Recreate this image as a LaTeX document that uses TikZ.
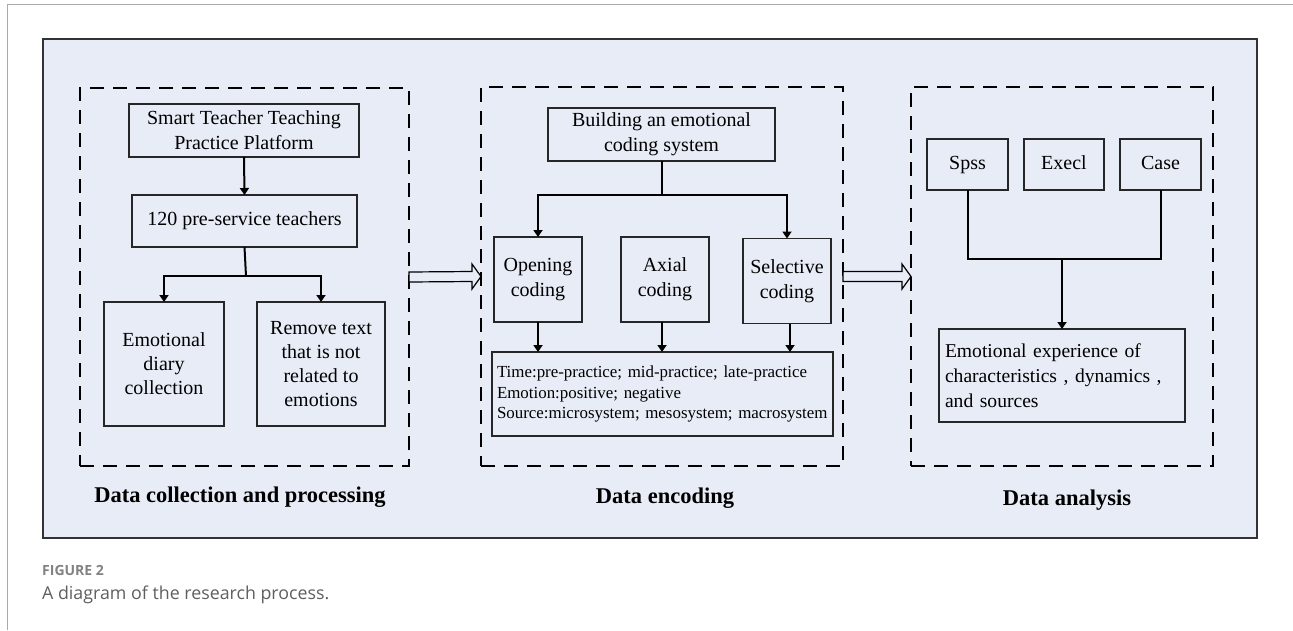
\documentclass[tikz,border=0pt]{standalone}
\usepackage{fontspec}
\setmainfont{Liberation Serif}
\newfontfamily\capfont{Open Sans}
\usetikzlibrary{arrows.meta,calc}
\definecolor{bgblue}{RGB}{231,236,246}
\definecolor{framegray}{RGB}{170,170,170}
\definecolor{capgray}{RGB}{130,130,130}
\definecolor{captext}{RGB}{95,95,95}
\begin{document}
\begin{tikzpicture}[x=1pt,y=-1pt,
  box/.style={draw=black!85, line width=1.1pt, inner sep=0pt, outer sep=0pt, align=center, font=\fontsize{20}{25}\selectfont},
  dbox/.style={draw, line width=2pt, dash pattern=on 14pt off 9pt, inner sep=0pt, outer sep=0pt},
  conn/.style={line width=2pt},
  arr/.style={conn, -{Triangle[width=9pt,length=7pt]}},
  hollow/.style={draw, line width=1.2pt, fill=bgblue, line join=miter},
  lab/.style={font=\bfseries\fontsize{22.5}{26}\selectfont, anchor=base},
  tool/.style={box, text height=14pt, text depth=4.5pt}
]
\useasboundingbox (0,0) rectangle (1293,630);
\fill[white] (0,0) rectangle (1293,630);
% page frame
\draw[framegray, line width=1.5pt] (7.5,630) -- (7.5,4.5) -- (1293,4.5);
% blue panel
\node[draw=black!80, line width=1.3pt, fill=bgblue, minimum width=1214pt, minimum height=499pt, inner sep=0pt] (panel) at (650,288.5) {};

% dashed group boxes
\node[dbox, minimum width=329pt, minimum height=378pt] (d1) at (244.5,277) {};
\node[dbox, minimum width=362pt, minimum height=379pt] (d2) at (662,276.5) {};
\node[dbox, minimum width=302pt, minimum height=379pt] (d3) at (1062,276.5) {};

% group 1
\node[box, minimum width=230pt, minimum height=53pt] (smart) at (244,130.5) {Smart Teacher Teaching\\Practice Platform};
\node[box, minimum width=225pt, minimum height=52pt] (t120) at (244.5,221) {120 pre-service teachers};
\node[box, minimum width=120pt, minimum height=124pt, font=\fontsize{20}{24}\selectfont] (diary) at (164,364) {Emotional\\diary\\collection};
\node[box, minimum width=128pt, minimum height=124pt, font=\fontsize{20}{23.7}\selectfont] (remove) at (321,364) {Remove text\\that is not\\related to\\emotions};
\coordinate (s1) at (246,276);
\draw[arr] (smart.south) -- (t120.north);
\draw[conn] (t120.south) -- (s1);
\draw[arr] (s1) -| (diary.north);
\draw[arr] (s1) -| (remove.north);
\node[lab] (l1) at (240,502) {Data collection and processing};

% group 2
\node[box, minimum width=227pt, minimum height=53pt] (build) at (661.5,134.5) {Building an emotional\\coding system};
\node[box, minimum width=88pt, minimum height=85pt] (open) at (538,279.5) {Opening\\coding};
\node[box, minimum width=88pt, minimum height=85pt] (axial) at (665,279.5) {Axial\\coding};
\node[box, minimum width=88pt, minimum height=85pt] (selec) at (787,281) {Selective\\coding};
\node[box, text width=331pt, inner xsep=5pt, minimum height=84pt, align=left, font=\fontsize{16.9}{20.5}\selectfont] (res) at (662.5,394) {Time:pre-practice; mid-practice; late-practice\\Emotion:positive; negative\\Source:microsystem; mesosystem; macrosystem};
\coordinate (s2) at (661.5,195);
\draw[conn] (build.south) -- (s2);
\draw[arr] (s2) -| (open.north);
\draw[arr] (s2) -| (selec.north);
\draw[arr] (open.south) -- (open.south |- res.north);
\draw[arr] ($(axial.south)+(-3,0)$) -- ($(axial.south |- res.north)+(-3,0)$);
\draw[arr] ($(selec.south)+(3,0)$) -- ($(selec.south |- res.north)+(3,0)$);
\node[lab] (l2) at (665,503) {Data encoding};

% group 3
\node[tool, minimum width=81pt, minimum height=51pt] (spss) at (967.5,164.5) {Spss};
\node[tool, minimum width=80pt, minimum height=51pt] (execl) at (1064,164.5) {Execl};
\node[tool, minimum width=81pt, minimum height=51pt] (case) at (1160.5,164.5) {Case};
\node[box, minimum width=246pt, minimum height=93pt, align=left, inner xsep=6pt, text width=234pt, font=\fontsize{19.6}{25}\selectfont] (exp) at (1062,375.5) {\parbox{219pt}{\hbadness=10000\hfuzz=20pt Emotional experience of\linebreak characteristics~, dynamics~,\linebreak and sources}};
\coordinate (j3) at (1062,259);
\draw[conn] (spss.south) |- (j3) -| (case.south);
\draw[arr] (j3) -- (exp.north);
\node[lab] (l3) at (1067,505) {Data analysis};

% hollow arrows between groups
\draw[hollow] ($(d1.east)+(0,-5)$) -- ($(d2.west)+(-9,-5)$) -- ($(d2.west)+(-9,-12.5)$) -- (d2.west) -- ($(d2.west)+(-9,12.5)$) -- ($(d2.west)+(-9,5)$) -- ($(d1.east)+(0,5)$) -- cycle;
\draw[hollow] ($(d2.east)+(0,-5)$) -- ($(d3.west)+(-9,-5)$) -- ($(d3.west)+(-9,-12.5)$) -- (d3.west) -- ($(d3.west)+(-9,12.5)$) -- ($(d3.west)+(-9,5)$) -- ($(d2.east)+(0,5)$) -- cycle;

% caption
\node[anchor=base west, inner sep=0pt, text=capgray, font=\capfont\fontsize{14}{16}\selectfont\bfseries] (fig) at (42,575) {FIGURE 2};
\node[anchor=base west, inner sep=0pt, text=captext, font=\capfont\fontsize{17.8}{20}\selectfont] (cap) at (42,599) {A diagram of the research process.};
\end{tikzpicture}
\end{document}
